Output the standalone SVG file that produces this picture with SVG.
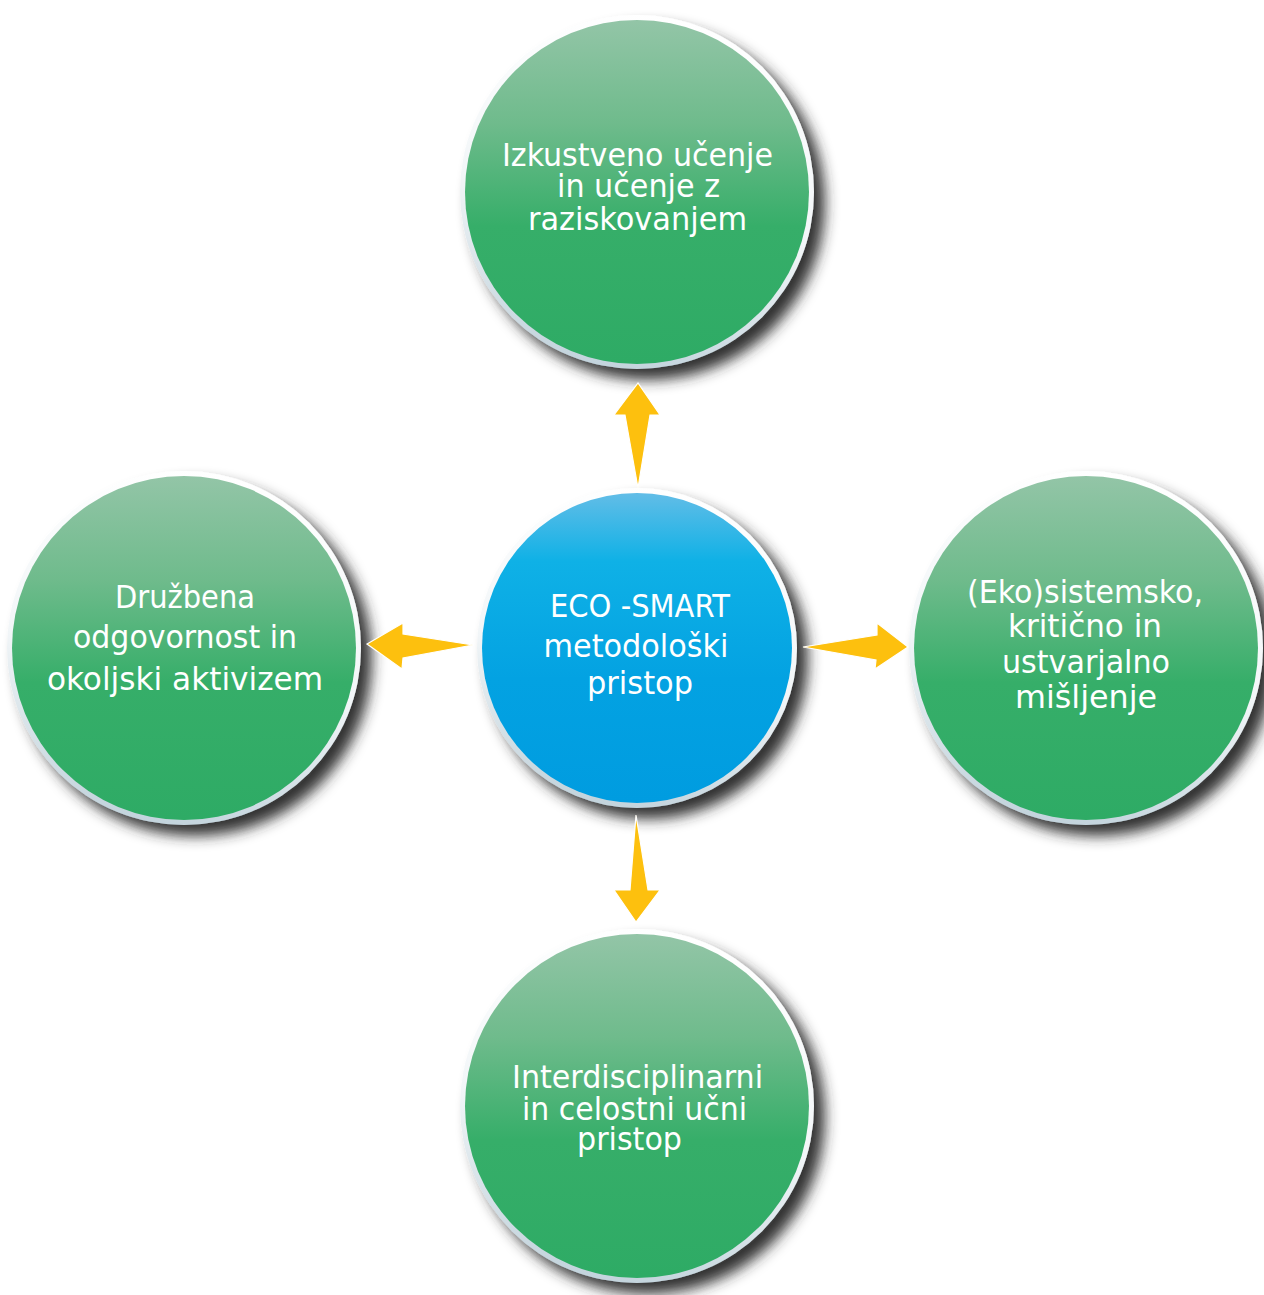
<svg xmlns="http://www.w3.org/2000/svg" width="1264" height="1295" viewBox="0 0 1264 1295">
<defs>
<linearGradient id="gGreen" x1="0" y1="0" x2="0" y2="1">
<stop offset="0" stop-color="#93c5a7"/>
<stop offset="0.3" stop-color="#6fbb8c"/>
<stop offset="0.6" stop-color="#36ae69"/>
<stop offset="1" stop-color="#2eab65"/>
</linearGradient>
<linearGradient id="gBlue" x1="0" y1="0" x2="0" y2="1">
<stop offset="0" stop-color="#62bde7"/>
<stop offset="0.22" stop-color="#0fb1e6"/>
<stop offset="0.6" stop-color="#03a2e2"/>
<stop offset="1" stop-color="#009ce0"/>
</linearGradient>
<linearGradient id="gRing" x1="0.6" y1="0" x2="0.4" y2="1">
<stop offset="0" stop-color="#ffffff"/>
<stop offset="0.55" stop-color="#f2f6f8"/>
<stop offset="1" stop-color="#c2d3dc"/>
</linearGradient>
<filter id="shadow" x="-20%" y="-20%" width="150%" height="150%">
<feGaussianBlur in="SourceAlpha" stdDeviation="7"/>
<feOffset dx="11" dy="11" result="b"/>
<feFlood flood-color="#2a2a2a" flood-opacity="0.95"/>
<feComposite in2="b" operator="in"/>
<feMerge><feMergeNode/><feMergeNode in="SourceGraphic"/></feMerge>
</filter>
</defs>
<style>
.ring{fill:url(#gRing);filter:url(#shadow)}
.green{fill:url(#gGreen)}
.blue{fill:url(#gBlue)}
.lbl{font-family:"DejaVu Sans Condensed","DejaVu Sans","Liberation Sans",sans-serif;font-size:32px;fill:#ffffff;text-anchor:middle}
.arrow{fill:#fdc00e;stroke:#ffffff;stroke-width:1.2;stroke-linejoin:miter}
</style>

<g id="node-top">
<circle class="ring" cx="637" cy="192" r="177"/>
<circle class="green" cx="637" cy="192" r="172"/>
<text class="lbl" x="637.5" y="166" textLength="271" lengthAdjust="spacingAndGlyphs">Izkustveno učenje</text>
<text class="lbl" x="638.5" y="197" textLength="163" lengthAdjust="spacingAndGlyphs">in učenje z</text>
<text class="lbl" x="637.5" y="230" textLength="219" lengthAdjust="spacingAndGlyphs">raziskovanjem</text>
</g>

<g id="node-left">
<circle class="ring" cx="184" cy="648" r="177"/>
<circle class="green" cx="184" cy="648" r="172"/>
<text class="lbl" x="185" y="608" textLength="140" lengthAdjust="spacingAndGlyphs">Družbena</text>
<text class="lbl" x="185" y="648" textLength="224" lengthAdjust="spacingAndGlyphs">odgovornost in</text>
<text class="lbl" x="185" y="690" textLength="276" lengthAdjust="spacingAndGlyphs">okoljski aktivizem</text>
</g>

<g id="node-right">
<circle class="ring" cx="1086" cy="648" r="177"/>
<circle class="green" cx="1086" cy="648" r="172"/>
<text class="lbl" x="1085" y="603" textLength="236" lengthAdjust="spacingAndGlyphs">(Eko)sistemsko,</text>
<text class="lbl" x="1085" y="637" textLength="154" lengthAdjust="spacingAndGlyphs">kritično in</text>
<text class="lbl" x="1086" y="673" textLength="168" lengthAdjust="spacingAndGlyphs">ustvarjalno</text>
<text class="lbl" x="1086" y="708" textLength="142" lengthAdjust="spacingAndGlyphs">mišljenje</text>
</g>

<g id="node-bottom">
<circle class="ring" cx="637" cy="1106" r="177"/>
<circle class="green" cx="637" cy="1106" r="172"/>
<text class="lbl" x="637.5" y="1088" textLength="251" lengthAdjust="spacingAndGlyphs">Interdisciplinarni</text>
<text class="lbl" x="634.5" y="1120" textLength="225" lengthAdjust="spacingAndGlyphs">in celostni učni</text>
<text class="lbl" x="629.5" y="1150" textLength="105" lengthAdjust="spacingAndGlyphs">pristop</text>
</g>

<g id="node-center">
<circle class="ring" cx="637" cy="648" r="160"/>
<circle class="blue" cx="637" cy="648" r="155"/>
<text class="lbl" x="640" y="617" textLength="180" lengthAdjust="spacingAndGlyphs">ECO -SMART</text>
<text class="lbl" x="636" y="657" textLength="185" lengthAdjust="spacingAndGlyphs">metodološki</text>
<text class="lbl" x="640" y="694" textLength="106" lengthAdjust="spacingAndGlyphs">pristop</text>
</g>

<g id="connectors">
<polygon class="arrow" points="638,488 625,415 614,415 638,383 660,415 650,415"/>
<polygon class="arrow" points="473,645 403,634 403,623 367,644 402,669 403,658"/>
<polygon class="arrow" points="803,647 877,635 877,623 908,647 875,669 876,660"/>
<polygon class="arrow" points="636,815 630,890 614,890 636,922 660,890 648,890"/>
</g>
</svg>
